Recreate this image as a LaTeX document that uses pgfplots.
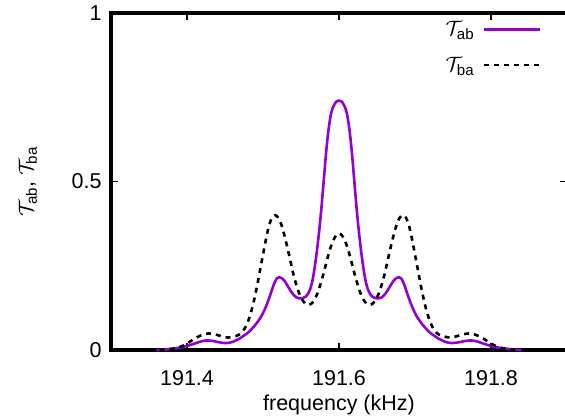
\documentclass[border=0pt]{standalone}
\usepackage{amsmath}
\usepackage{fontspec}
\setmainfont{Liberation Sans}
\usepackage{pgfplots}
\pgfplotsset{compat=1.18}

\definecolor{gpviolet}{RGB}{148,0,211}

\begin{document}
\begin{tikzpicture}[font=\fontsize{21.5}{25}\selectfont]
    \begin{axis}[
        at={(111pt,67pt)}, anchor=south west,
        scale only axis,
        width=456pt, height=337pt,
        xmin=191.3, xmax=191.9,
        ymin=0, ymax=1,
        xtick={191.4,191.6,191.8},
        ytick={0,0.5,1},
        xticklabels={191.4,191.6,191.8},
        yticklabels={0,0.5,1},
        tick align=inside,
        major tick length=7pt,
        tick style={black, line width=1.3pt},
        axis line style={line width=4pt},
        xticklabel style={yshift=-17pt},
        yticklabel style={xshift=-6pt},
        xlabel={frequency (kHz)},
        ylabel={$\mathcal{T}_{\text{ab}}$, $\mathcal{T}_{\text{ba}}$},
        xlabel style={at={(axis description cs:0.5,-0.163)}, anchor=center},
        ylabel style={at={(axis description cs:-0.182,0.5)}, anchor=center},
        /pgf/number format/assume math mode=true,
        legend plot pos=right,
        legend cell align=right,
        legend style={at={(0.945,0.975)}, anchor=north east, draw=none,
            fill=none, inner sep=0pt, row sep=20pt, column sep=6pt,
            nodes={inner xsep=3pt, inner ysep=0pt}},
        legend image code/.code={\draw[#1] (0pt,0pt) -- (56pt,0pt);},
        clip=false
    ]

    % T_ab
    \addplot[gpviolet, line width=2.6pt, smooth, tension=0.4] coordinates {
        (191.360, 0.000) (191.370, 0.001) (191.380, 0.004) (191.390, 0.007)
        (191.400, 0.012) (191.410, 0.019) (191.418, 0.025) (191.424, 0.028)
        (191.430, 0.028) (191.436, 0.026) (191.442, 0.023) (191.448, 0.021)
        (191.454, 0.021) (191.460, 0.024) (191.465, 0.029) (191.470, 0.035)
        (191.475, 0.043) (191.480, 0.051) (191.485, 0.062) (191.490, 0.075)
        (191.494, 0.087) (191.498, 0.101) (191.502, 0.119) (191.506, 0.141)
        (191.510, 0.166) (191.514, 0.193) (191.518, 0.212) (191.521, 0.216)
        (191.524, 0.214) (191.528, 0.206) (191.532, 0.192) (191.536, 0.177)
        (191.540, 0.164) (191.544, 0.156) (191.548, 0.153) (191.552, 0.154)
        (191.556, 0.158) (191.559, 0.166) (191.562, 0.180) (191.565, 0.205)
        (191.568, 0.245) (191.571, 0.295) (191.574, 0.355) (191.577, 0.425)
        (191.580, 0.505) (191.583, 0.585) (191.586, 0.650) (191.589, 0.695)
        (191.592, 0.720) (191.596, 0.736) (191.600, 0.740)
        (191.604, 0.736) (191.608, 0.720) (191.611, 0.695) (191.614, 0.650)
        (191.617, 0.585) (191.620, 0.505) (191.623, 0.425) (191.626, 0.355)
        (191.629, 0.295) (191.632, 0.245) (191.635, 0.205) (191.638, 0.180)
        (191.641, 0.166) (191.644, 0.158) (191.648, 0.154) (191.652, 0.153)
        (191.656, 0.156) (191.660, 0.164) (191.664, 0.177) (191.668, 0.192)
        (191.672, 0.206) (191.676, 0.214) (191.679, 0.216) (191.682, 0.212)
        (191.686, 0.193) (191.690, 0.166) (191.694, 0.141) (191.698, 0.119)
        (191.702, 0.101) (191.706, 0.087) (191.710, 0.075) (191.715, 0.062)
        (191.720, 0.051) (191.725, 0.043) (191.730, 0.035) (191.735, 0.029)
        (191.740, 0.024) (191.746, 0.021) (191.752, 0.021) (191.758, 0.023)
        (191.764, 0.026) (191.770, 0.028) (191.776, 0.028) (191.782, 0.025)
        (191.790, 0.019) (191.800, 0.012) (191.810, 0.007) (191.820, 0.004)
        (191.830, 0.001) (191.840, 0.000)
    };
    \addlegendentry{$\mathcal{T}_{\text{ab}}$}

    % T_ba
    \addplot[black, line width=2.6pt, dash pattern=on 5pt off 5pt, smooth, tension=0.4] coordinates {
        (191.364, 0.000) (191.376, 0.002) (191.386, 0.006) (191.394, 0.012)
        (191.402, 0.022) (191.410, 0.034) (191.418, 0.043) (191.424, 0.048)
        (191.430, 0.049) (191.436, 0.047) (191.442, 0.043) (191.448, 0.039)
        (191.454, 0.037) (191.460, 0.039) (191.464, 0.041) (191.468, 0.045)
        (191.472, 0.052) (191.476, 0.064) (191.480, 0.083) (191.484, 0.110)
        (191.488, 0.145) (191.492, 0.188) (191.496, 0.235) (191.500, 0.283)
        (191.504, 0.330) (191.508, 0.370) (191.512, 0.393) (191.516, 0.400)
        (191.520, 0.393) (191.524, 0.373) (191.528, 0.342) (191.532, 0.305)
        (191.536, 0.265) (191.540, 0.225) (191.544, 0.192) (191.548, 0.166)
        (191.552, 0.148) (191.556, 0.137) (191.560, 0.134) (191.564, 0.138)
        (191.568, 0.150) (191.572, 0.170) (191.576, 0.198) (191.580, 0.230)
        (191.584, 0.265) (191.588, 0.298) (191.592, 0.323) (191.596, 0.340)
        (191.600, 0.346)
        (191.604, 0.340) (191.608, 0.323) (191.612, 0.298) (191.616, 0.265)
        (191.620, 0.230) (191.624, 0.198) (191.628, 0.170) (191.632, 0.150)
        (191.636, 0.138) (191.640, 0.134) (191.644, 0.137) (191.648, 0.148)
        (191.652, 0.166) (191.656, 0.192) (191.660, 0.225) (191.664, 0.265)
        (191.668, 0.305) (191.672, 0.342) (191.676, 0.373) (191.680, 0.393)
        (191.684, 0.400) (191.688, 0.393) (191.692, 0.370) (191.696, 0.330)
        (191.700, 0.283) (191.704, 0.235) (191.708, 0.188) (191.712, 0.145)
        (191.716, 0.110) (191.720, 0.083) (191.724, 0.064) (191.728, 0.052)
        (191.732, 0.045) (191.736, 0.041) (191.740, 0.039) (191.746, 0.037)
        (191.752, 0.039) (191.758, 0.043) (191.764, 0.047) (191.770, 0.049)
        (191.776, 0.048) (191.782, 0.043) (191.790, 0.034) (191.798, 0.022)
        (191.806, 0.012) (191.814, 0.006) (191.824, 0.002) (191.836, 0.000)
    };
    \addlegendentry{$\mathcal{T}_{\text{ba}}$}

    \end{axis}
    \pgfresetboundingbox
    \useasboundingbox (0,0) rectangle (565pt,417pt);
\end{tikzpicture}
\end{document}
